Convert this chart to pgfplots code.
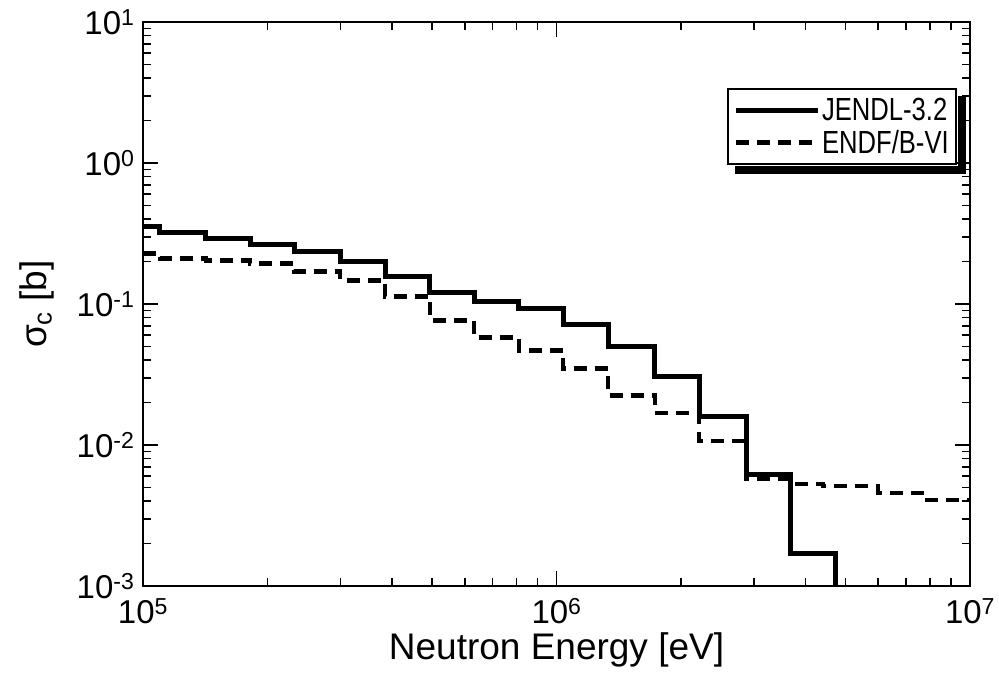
\documentclass[border=0pt]{standalone}
\usepackage{fontspec}
\setmainfont{Liberation Sans}
\newfontfamily\narrowfont[FakeStretch=0.8]{Liberation Sans}
\usepackage{pgfplots}
\pgfplotsset{compat=1.18}
\begin{document}
\begin{tikzpicture}[x=1pt,y=1pt]
\useasboundingbox (0,0) rectangle (999,683);
\begin{axis}[
  at={(143pt,97pt)}, anchor=south west,
  width=827pt, height=564pt, scale only axis,
  xmode=log, ymode=log,
  xmin=1e5, xmax=1e7, ymin=1e-3, ymax=1e1,
  axis line style={line width=2.5pt},
  every tick/.style={black, line width=1.6pt},
  major tick length=15pt, minor tick length=8pt,
  xtick={1e5,1e6,1e7},
  xticklabels={10\textsuperscript{5},10\textsuperscript{6},10\textsuperscript{7}},
  minor xtick={2e5,3e5,4e5,5e5,6e5,7e5,8e5,9e5,2e6,3e6,4e6,5e6,6e6,7e6,8e6,9e6},
  ytick={1e-3,1e-2,1e-1,1,10},
  yticklabels={10\textsuperscript{-3},10\textsuperscript{-2},10\textsuperscript{-1},10\textsuperscript{0},10\textsuperscript{1}},
  minor ytick={2e-3,3e-3,4e-3,5e-3,6e-3,7e-3,8e-3,9e-3,2e-2,3e-2,4e-2,5e-2,6e-2,7e-2,8e-2,9e-2,0.2,0.3,0.4,0.5,0.6,0.7,0.8,0.9,2,3,4,5,6,7,8,9},
  tick label style={font=\fontsize{33}{38}\selectfont},
  xticklabel style={yshift=-9pt},
  yticklabel style={xshift=-5pt},
  xlabel={Neutron Energy [eV]},
  ylabel={σ\textsubscript{c} [b]},
  label style={font=\fontsize{37}{42}\selectfont},
  xlabel style={yshift=-2pt},
  ylabel style={yshift=16pt},
  legend cell align=left,
  legend style={name=leg, at={(0.984,0.883)}, anchor=north east, draw=black, line width=2.2pt,
    fill=white, font=\narrowfont\fontsize{32}{35}\selectfont, inner xsep=5pt, inner ysep=7pt,
    row sep=4pt, column sep=0pt},
  legend image code/.code={\draw[#1] (0pt,0pt) -- (82pt,0pt);},
  every odd column/.append style={column sep=4pt},
  clip=true,
]
\addplot[const plot, black, line width=5pt] coordinates {
(1e5,0.357) (1.099e5,0.322) (1.42e5,0.292) (1.815e5,0.265) (2.318e5,0.236)
(2.995e5,0.200) (3.85e5,0.157) (4.94e5,0.121) (6.32e5,0.104) (8.11e5,0.093)
(1.037e6,0.0715) (1.332e6,0.0499) (1.73e6,0.0305) (2.212e6,0.0159)
(2.873e6,0.00615) (3.69e6,0.00171) (4.74e6,0.0001)
};
\addlegendentry{JENDL-3.2}
\addplot[const plot, black, line width=4.5pt, dash pattern=on 13pt off 8pt] coordinates {
(1e5,0.229) (1.099e5,0.211) (1.42e5,0.204) (1.815e5,0.194) (2.318e5,0.170)
(2.995e5,0.147) (3.85e5,0.113) (4.94e5,0.0764) (6.32e5,0.0578) (8.11e5,0.0467)
(1.037e6,0.0348) (1.332e6,0.0224) (1.73e6,0.0169) (2.212e6,0.0107)
(2.873e6,0.00575) (3.69e6,0.00531) (4.41e6,0.00513) (5.99e6,0.00458)
(7.65e6,0.00408) (1e7,0.00408)
};
\addlegendentry{ENDF/B-VI}
\end{axis}
\fill[black] ([xshift=1pt,yshift=-8pt]leg.north east) rectangle ([xshift=9pt,yshift=-9pt]leg.south east);
\fill[black] ([xshift=8pt,yshift=-1pt]leg.south west) rectangle ([xshift=9pt,yshift=-9pt]leg.south east);
\end{tikzpicture}
\end{document}
